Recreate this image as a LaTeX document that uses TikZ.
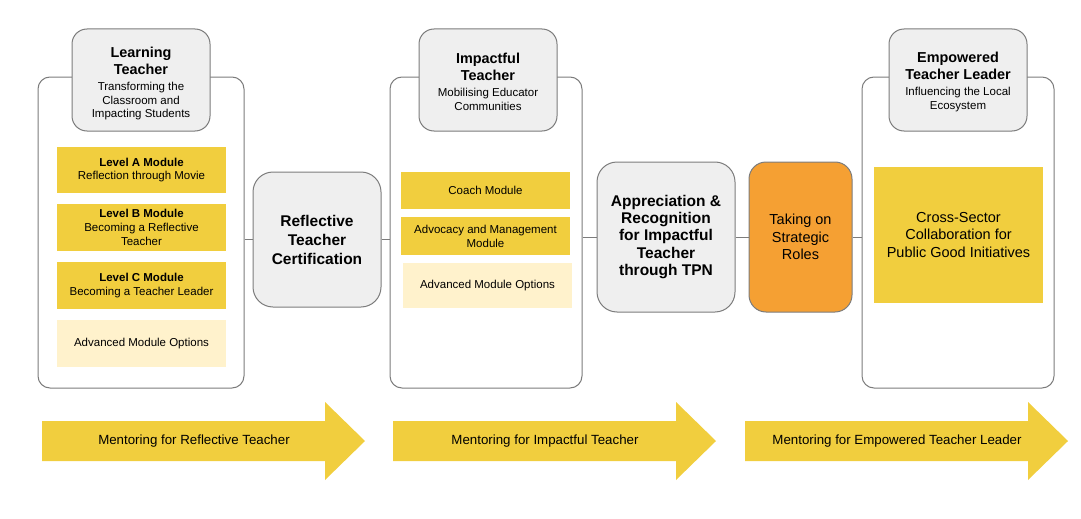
\documentclass[tikz,border=0pt]{standalone}
\usepackage{fontspec}
\setmainfont{Liberation Sans}
\definecolor{gold}{HTML}{F1CE3E}
\definecolor{cream}{HTML}{FFF2CC}
\definecolor{paleg}{HTML}{EFEFEF}
\definecolor{edge}{HTML}{7C7C7C}
\definecolor{tangerine}{HTML}{F5A033}

\begin{document}
\begin{tikzpicture}[x=1pt, y=-1pt,
	panel/.style={draw=edge, line width=1pt, rounded corners=12pt, fill=white},
	header/.style={draw=edge, line width=1pt, rounded corners=15pt, fill=paleg, minimum width=138pt, minimum height=102pt, inner sep=0pt},
	headtext/.style={inner sep=0pt, align=center, font=\fontsize{11.5}{13.5}\selectfont},
	module/.style={fill=gold, minimum width=169pt, inner sep=0pt, align=center, font=\fontsize{11.5}{13.8}\selectfont},
	extra/.style={module, fill=cream},
	milestone/.style={draw=edge, line width=1pt, rounded corners=20pt, fill=paleg, inner sep=0pt, align=center, font=\bfseries\fontsize{15.5}{19}\selectfont},
	link/.style={draw=edge, line width=1pt},
	mentor/.style={fill=gold},
	mentortext/.style={font=\fontsize{13.3}{15}\selectfont}]
	\useasboundingbox (0,0) rectangle (1081,519);

	\node[panel, minimum width=206pt, minimum height=311pt] (p1) at (141,232.5) {};
	\node[panel, minimum width=192pt, minimum height=311pt] (p2) at (486,232.5) {};
	\node[panel, minimum width=192pt, minimum height=311pt] (p3) at (958,232.5) {};

	\node[header] (h1) at (141,80) {};
	\node[header] (h2) at (488,80) {};
	\node[header] (h3) at (958,80) {};
	\node[headtext] (h1t) at (141,83.3) {{\bfseries\fontsize{14.4}{16}\selectfont Learning}\\[3.5pt]{\bfseries\fontsize{14.4}{16}\selectfont Teacher}\\[3pt]Transforming the\\Classroom and\\Impacting Students};
	\node[headtext] (h2t) at (488,81.5) {{\bfseries\fontsize{14.4}{16}\selectfont Impactful}\\[3.5pt]{\bfseries\fontsize{14.4}{16}\selectfont Teacher}\\[3pt]Mobilising Educator\\Communities};
	\node[headtext] (h3t) at (958,81.5) {{\bfseries\fontsize{14.4}{16}\selectfont Empowered}\\[3.5pt]{\bfseries\fontsize{14.4}{16}\selectfont Teacher Leader}\\[3pt]Influencing the Local\\Ecosystem};

	\node[module, minimum height=46pt] (la) at (141.5,170) {\textbf{Level A Module}\\Reflection through Movie};
	\node[module, minimum height=47pt] (lb) at (141.5,227.5) {\textbf{Level B Module}\\Becoming a Reflective\\Teacher};
	\node[module, minimum height=47pt] (lc) at (141.5,285.5) {\textbf{Level C Module}\\Becoming a Teacher Leader};
	\node[extra, minimum height=47pt] (adv1) at (141.5,343.5) {Advanced Module Options};

	\node[module, minimum height=37pt] (coach) at (485.5,190.5) {Coach Module};
	\node[module, minimum height=38pt] (advocacy) at (485.5,236) {Advocacy and Management\\Module};
	\node[extra, minimum height=45pt] (adv2) at (487.5,285.5) {Advanced Module Options};

	\node[module, minimum height=136pt, font=\fontsize{14.5}{17.5}\selectfont] (cross) at (958.5,235) {Cross-Sector\\Collaboration for\\Public Good Initiatives};

	\node[milestone, minimum width=128pt, minimum height=135pt] (cert) at (317,239.5) {Reflective\\Teacher\\Certification};
	\node[milestone, minimum width=138pt, minimum height=150pt, font=\bfseries\fontsize{15.5}{17.4}\selectfont] (appr) at (666,237) {Appreciation \&\\Recognition\\for Impactful\\Teacher\\through TPN};
	\node[milestone, minimum width=103pt, minimum height=150pt, rounded corners=17pt, fill=tangerine, font=\fontsize{14.5}{17.5}\selectfont] (roles) at (800.5,237) {Taking on\\Strategic\\Roles};

	\draw[link] (p1.east |- cert.west) -- (cert.west);
	\draw[link] (cert.east) -- (cert.east -| p2.west);
	\draw[link] (p2.east |- appr.west) -- (appr.west);
	\draw[link] (appr.east) -- (roles.west);
	\draw[link] (roles.east) -- (roles.east -| p3.west);

	\foreach \sx/\txt [count=\i] in {42/Mentoring for Reflective Teacher, 393/Mentoring for Impactful Teacher, 745/Mentoring for Empowered Teacher Leader} {
		\fill[mentor] (\sx,421) -- (\sx+283,421) -- (\sx+283,402) -- (\sx+323,441) -- (\sx+283,480) -- (\sx+283,461) -- (\sx,461) -- cycle;
		\node[mentortext] (m\i) at (\sx+152,441) {\txt};
	}
\end{tikzpicture}
\end{document}
